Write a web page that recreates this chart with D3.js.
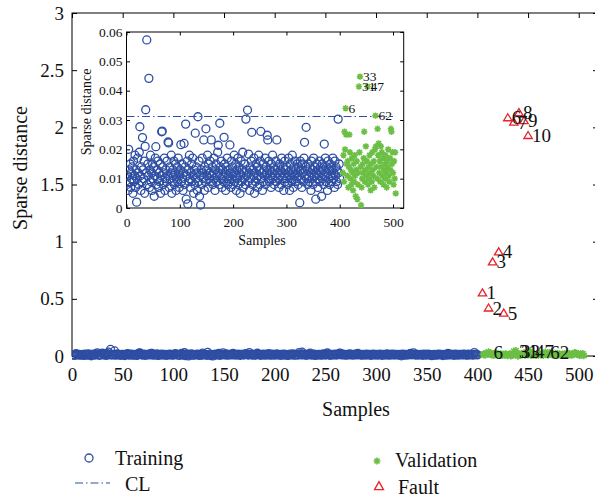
<!DOCTYPE html>
<html><head><meta charset="utf-8">
<script src="https://cdn.jsdelivr.net/npm/d3@7"></script>
<style>
html,body{margin:0;padding:0;background:#fff;}
text{font-family:"Liberation Serif","Times New Roman",serif;fill:#111;}
</style></head>
<body>
<svg id="chart" width="595" height="501"></svg>
<script>
// ---------- DATA ----------
const trainingValues = [
0.008,0.011,0.006,0.020,0.013,0.009,0.015,0.007,0.012,0.010,0.014,0.005,0.016,0.009,0.011,0.018,0.007,0.013,0.002,0.010,
0.017,0.012,0.008,0.019,0.0277,0.011,0.006,0.014,0.009,0.024,0.013,0.010,0.016,0.005,0.021,0.0335,0.012,0.0573,0.008,0.015,
0.011,0.0442,0.007,0.013,0.018,0.009,0.012,0.006,0.015,0.010,0.014,0.004,0.011,0.017,0.0209,0.008,0.013,0.010,0.016,0.007,
0.012,0.009,0.015,0.005,0.011,0.026,0.0262,0.014,0.008,0.012,0.017,0.006,0.010,0.013,0.009,0.016,0.011,0.0225,0.0222,0.007,
0.014,0.010,0.012,0.018,0.005,0.009,0.013,0.011,0.016,0.008,0.012,0.015,0.006,0.010,0.014,0.009,0.017,0.012,0.007,0.011,
0.013,0.0216,0.009,0.015,0.010,0.006,0.012,0.022,0.008,0.014,0.0286,0.003,0.011,0.016,0.0014,0.013,0.009,0.018,0.010,0.007,
0.012,0.015,0.009,0.017,0.011,0.005,0.013,0.008,0.0255,0.010,0.014,0.012,0.006,0.0311,0.009,0.016,0.004,0.011,0.001,0.013,
0.008,0.017,0.012,0.010,0.0232,0.006,0.014,0.009,0.027,0.013,0.011,0.018,0.007,0.015,0.010,0.012,0.016,0.009,0.0232,0.011,
0.014,0.008,0.012,0.017,0.010,0.006,0.013,0.015,0.009,0.011,0.019,0.0214,0.012,0.008,0.0289,0.014,0.010,0.016,0.007,0.013,
0.011,0.009,0.0241,0.015,0.012,0.006,0.014,0.010,0.017,0.008,0.013,0.011,0.009,0.0215,0.012,0.007,0.016,0.010,0.014,0.008,
0.012,0.018,0.009,0.011,0.015,0.006,0.013,0.010,0.017,0.008,0.014,0.012,0.005,0.011,0.016,0.009,0.013,0.019,0.007,0.012,
0.010,0.015,0.008,0.0303,0.013,0.011,0.0334,0.009,0.0184,0.012,0.006,0.014,0.010,0.016,0.0258,0.008,0.013,0.011,0.017,0.005,
0.012,0.009,0.015,0.010,0.014,0.007,0.011,0.018,0.013,0.008,0.016,0.0261,0.010,0.012,0.006,0.015,0.009,0.013,0.011,0.017,
0.008,0.014,0.012,0.0248,0.0232,0.010,0.016,0.009,0.013,0.011,0.007,0.015,0.012,0.018,0.010,0.014,0.008,0.013,0.011,0.016,
0.009,0.0232,0.012,0.014,0.010,0.007,0.015,0.011,0.013,0.008,0.017,0.012,0.010,0.014,0.006,0.011,0.016,0.009,0.013,0.010,
0.014,0.008,0.012,0.017,0.011,0.006,0.015,0.010,0.013,0.009,0.018,0.012,0.007,0.014,0.011,0.016,0.009,0.013,0.010,0.015,
0.012,0.008,0.014,0.011,0.0018,0.016,0.010,0.013,0.007,0.015,0.012,0.009,0.017,0.0224,0.011,0.014,0.0275,0.010,0.013,0.008,
0.015,0.011,0.009,0.014,0.012,0.006,0.016,0.010,0.013,0.008,0.017,0.011,0.014,0.009,0.003,0.012,0.015,0.010,0.007,0.013,
0.011,0.016,0.009,0.014,0.012,0.004,0.015,0.010,0.013,0.008,0.0218,0.011,0.017,0.009,0.014,0.012,0.006,0.016,0.010,0.013,
0.008,0.015,0.011,0.014,0.009,0.013,0.017,0.010,0.012,0.007,0.016,0.011,0.014,0.009,0.013,0.008,0.0303,0.012,0.015,0.010
];
const validationStart = 405; // validation sample k is plotted at x = validationStart + k
const validationValues = [
0.012,0.018,0.009,0.026,0.020,0.034,0.025,0.015,0.011,0.016,
0.007,0.014,0.025,0.019,0.010,0.013,0.008,0.017,0.012,0.006,
0.015,0.009,0.018,0.011,0.004,0.013,0.016,0.003,0.008,0.012,
0.0414,0.019,0.0448,0.014,0.001,0.007,0.010,0.015,0.012,0.017,
0.026,0.009,0.013,0.021,0.011,0.016,0.0414,0.008,0.014,0.010,
0.018,0.012,0.006,0.015,0.009,0.019,0.013,0.011,0.016,0.007,
0.020,0.0315,0.021,0.014,0.010,0.027,0.018,0.022,0.012,0.016,
0.009,0.021,0.014,0.019,0.011,0.017,0.008,0.013,0.015,0.010,
0.018,0.012,0.007,0.016,0.014,0.020,0.011,0.009,0.017,0.013,
0.027,0.026,0.015,0.019,0.012,0.008,0.016,0.010,0.019,0.005
];
const validationLabels = [6, 31, 33, 47, 62];
const faultX = [405, 411, 415, 421, 426, 430, 436, 441, 446, 450];
const faultY = [0.553, 0.421, 0.825, 0.912, 0.377, 2.085, 2.047, 2.13, 2.06, 1.93];
const faultLabels = ["1","2","3","4","5","6","7","8","9","10"];
const CL = 0.0312;
const mainXTicks = [0,50,100,150,200,250,300,350,400,450,500];
const mainYTicks = [0,0.5,1,1.5,2,2.5,3];
const insetXTicks = [0,100,200,300,400,500];
const insetYTicks = [0,0.01,0.02,0.03,0.04,0.05,0.06];

// ---------- STYLE ----------
const BLUE = "#2d4ea3", GREEN = "#6cbf45", RED = "#e8222c";
const svg = d3.select("#chart");

const training = trainingValues.map((v,i)=>({x:i+1, y:v}));
const validation = validationValues.map((v,i)=>({x:validationStart+i+1, y:v, k:i+1}));
const faults = faultX.map((x,i)=>({x, y:faultY[i], label:faultLabels[i]}));

function starPath(s){
  const a = s*0.72;
  return `M${-s},0H${s}M0,${-s}V${s}M${-a},${-a}L${a},${a}M${-a},${a}L${a},${-a}`;
}
function triPath(w,h){ return `M0,${-h*0.55}L${w},${h*0.45}L${-w},${h*0.45}Z`; }
const fmt = d => d3.format("~g")(d);

function drawPanel(g, x, y, o){
  const [x0,x1] = x.range(), [y0,y1] = y.range();
  // box
  g.append("rect").attr("x",x0).attr("y",y1).attr("width",x1-x0).attr("height",y0-y1)
    .attr("fill", o.bg).attr("stroke","none");
  const ax = (a, tr) => {
    const gg = g.append("g").attr("transform",tr).call(a);
    gg.select(".domain").remove();
    gg.selectAll("line").attr("stroke","#000").attr("stroke-width",1);
    gg.selectAll("text").style("font-family",'"Liberation Serif",serif').style("font-size",o.fs+"px").attr("fill","#111");
    return gg;
  };
  ax(d3.axisBottom(x).tickValues(o.xt).tickSize(-o.tl).tickPadding(o.xpad).tickFormat(fmt), `translate(0,${y0})`);
  ax(d3.axisTop(x).tickValues(o.xt).tickSize(-o.tl).tickFormat(""), `translate(0,${y1})`);
  ax(d3.axisLeft(y).tickValues(o.yt).tickSize(-o.tl).tickPadding(o.ypad).tickFormat(fmt), `translate(${x0},0)`);
  ax(d3.axisRight(y).tickValues(o.yt).tickSize(-o.tl).tickFormat(""), `translate(${x1},0)`);
  g.append("rect").attr("x",x0).attr("y",y1).attr("width",x1-x0).attr("height",y0-y1)
    .attr("fill","none").attr("stroke","#000").attr("stroke-width",1);
}

function drawData(g, x, y, o){
  const clipId = o.id;
  g.append("clipPath").attr("id",clipId).append("rect")
    .attr("x",x.range()[0]).attr("y",y.range()[1]-8)
    .attr("width",x.range()[1]-x.range()[0]).attr("height",y.range()[0]-y.range()[1]+16);
  const d = g.append("g").attr("clip-path",`url(#${clipId})`);
  d.selectAll("circle.tr").data(training).join("circle").attr("class","tr")
    .attr("cx",p=>x(p.x)).attr("cy",p=>y(p.y)).attr("r",o.r)
    .attr("fill","none").attr("stroke",BLUE).attr("stroke-width",1.3);
  d.append("line").attr("x1",x(0)).attr("x2",x(500)).attr("y1",y(CL)).attr("y2",y(CL))
    .attr("stroke",BLUE).attr("stroke-width",1.2).attr("stroke-dasharray","8,3,1.5,3");
  d.selectAll("path.va").data(validation).join("path").attr("class","va")
    .attr("transform",p=>`translate(${x(p.x)},${y(p.y)})`).attr("d",starPath(o.s))
    .attr("stroke",GREEN).attr("stroke-width",1.6).attr("fill","none");
  g.selectAll("text.vl").data(validation.filter(p=>validationLabels.includes(p.k))).join("text").attr("class","vl")
    .attr("x",p=>x(p.x)+o.lo).attr("y",p=>y(p.y)).attr("dy","0.35em")
    .style("font-size",o.lfs+"px").text(p=>p.k);
}

// ---------- MAIN ----------
const mx = d3.scaleLinear([0,519],[72,598]);
const my = d3.scaleLinear([0,3],[356,13]);
const main = svg.append("g");
drawPanel(main, mx, my, {bg:"#fff", xt:mainXTicks, yt:mainYTicks, tl:5, xpad:12, ypad:8, fs:19});
drawData(main, mx, my, {id:"clipMain", r:4, s:3.8, lo:5, lfs:19});
main.selectAll("path.fa").data(faults).join("path").attr("class","fa")
  .attr("transform",p=>`translate(${mx(p.x)},${my(p.y)})`).attr("d",triPath(4.2,7))
  .attr("fill","none").attr("stroke",RED).attr("stroke-width",1.3);
main.selectAll("text.fl").data(faults).join("text").attr("class","fl")
  .attr("x",p=>mx(p.x)+4).attr("y",p=>my(p.y)).attr("dy","0.35em")
  .style("font-size","19px").text(p=>p.label);
main.append("text").attr("x",356).attr("y",416).attr("text-anchor","middle").style("font-size","20px").text("Samples");
main.append("text").attr("transform","translate(27,168) rotate(-90)").attr("text-anchor","middle").style("font-size","20px").text("Sparse distance");

// ---------- INSET ----------
const ix = d3.scaleLinear([0,520],[126.5,403.7]);
const iy = d3.scaleLinear([0,0.06],[208,32]);
const inset = svg.append("g");
drawPanel(inset, ix, iy, {bg:"#fff", xt:insetXTicks, yt:insetYTicks, tl:3.5, xpad:9, ypad:4, fs:13.5});
drawData(inset, ix, iy, {id:"clipInset", r:4, s:3.2, lo:3, lfs:13.5});
inset.append("text").attr("x",262).attr("y",245).attr("text-anchor","middle").style("font-size","14px").text("Samples");
inset.append("text").attr("transform","translate(91,112) rotate(-90)").attr("text-anchor","middle").style("font-size","14px").text("Sparse distance");

// ---------- LEGEND ----------
const leg = svg.append("g");
leg.append("circle").attr("cx",89).attr("cy",458).attr("r",4).attr("fill","none").attr("stroke",BLUE).attr("stroke-width",1.3);
leg.append("text").attr("x",115).attr("y",465).style("font-size","20px").text("Training");
leg.append("line").attr("x1",75).attr("x2",110).attr("y1",483).attr("y2",483)
  .attr("stroke",BLUE).attr("stroke-width",1.2).attr("stroke-dasharray","8,3,1.5,3");
leg.append("text").attr("x",125).attr("y",491).style("font-size","20px").text("CL");
leg.append("path").attr("transform","translate(377,461)").attr("d",starPath(3.5)).attr("stroke",GREEN).attr("stroke-width",1.6).attr("fill","none");
leg.append("text").attr("x",395).attr("y",467).style("font-size","20px").text("Validation");
leg.append("path").attr("transform","translate(379,486)").attr("d",triPath(4.5,8)).attr("fill","none").attr("stroke",RED).attr("stroke-width",1.3);
leg.append("text").attr("x",398).attr("y",494).style("font-size","20px").text("Fault");
</script>
</body></html>
